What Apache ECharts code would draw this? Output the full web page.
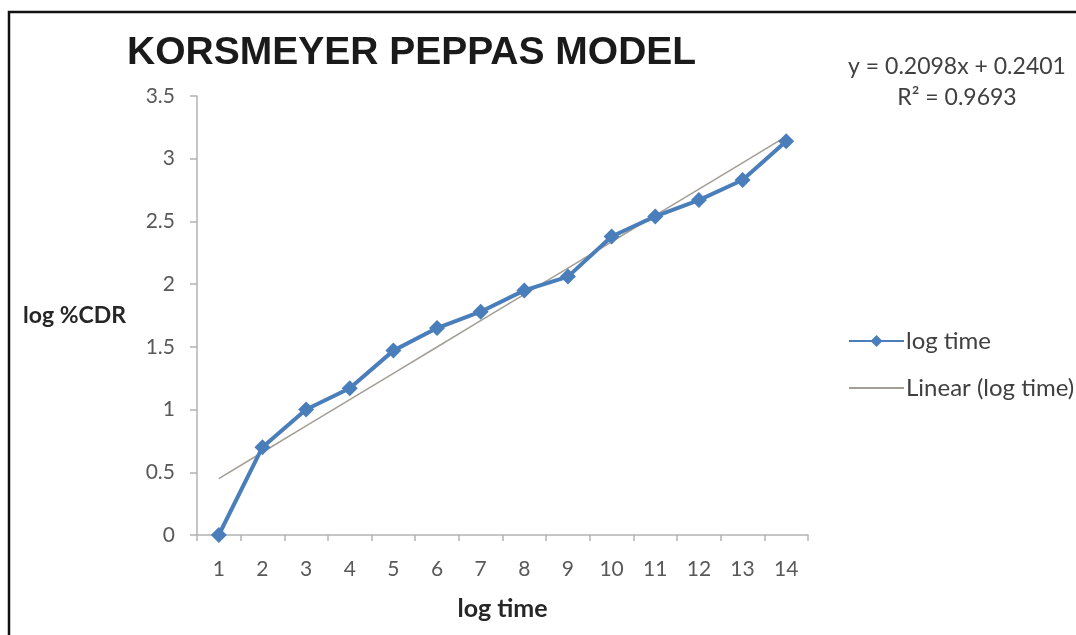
<!DOCTYPE html>
<html>
<head>
<meta charset="utf-8">
<style>
html,body{margin:0;padding:0;background:#fff;}
#chart{width:1076px;height:635px;}
</style>
<script src="https://cdn.jsdelivr.net/npm/echarts@6/dist/echarts.min.js"></script>
</head>
<body>
<div id="chart"></div>
<script>
const categories = ['1','2','3','4','5','6','7','8','9','10','11','12','13','14'];
const logCDR = [0, 0.70, 1.0, 1.17, 1.47, 1.65, 1.78, 1.95, 2.06, 2.38, 2.54, 2.67, 2.83, 3.14];
const trendSlope = 0.2098;
const trendIntercept = 0.2401;
const rSquared = 0.9693;
const yTicks = [0, 0.5, 1, 1.5, 2, 2.5, 3, 3.5];

const trend = categories.map(function (c, i) { return +(trendSlope * (i + 1) + trendIntercept).toFixed(4); });

const FONT = 'Lato, "Open Sans", sans-serif';
const chart = echarts.init(document.getElementById('chart'));
chart.setOption({
  backgroundColor: '#ffffff',
  animation: false,
  title: {
    text: 'KORSMEYER PEPPAS MODEL',
    left: 122,
    top: 29,
    textStyle: {
      fontFamily: '"Liberation Sans", sans-serif',
      fontWeight: 'bold',
      fontSize: 39,
      color: '#1a1a1a'
    }
  },
  graphic: [
    {
      type: 'polyline',
      shape: { points: [[9, 635], [9, 12], [1076, 12]] },
      style: { stroke: '#111', lineWidth: 2.5, fill: null }
    },
    {
      type: 'text',
      x: 957,
      y: 67,
      style: {
        text: 'y = ' + trendSlope + 'x + ' + trendIntercept,
        font: '23px ' + FONT,
        fill: '#404040',
        align: 'center',
        verticalAlign: 'middle'
      }
    },
    {
      type: 'text',
      x: 957,
      y: 98,
      style: {
        text: 'R² = ' + rSquared,
        font: '23px ' + FONT,
        fill: '#404040',
        align: 'center',
        verticalAlign: 'middle'
      }
    }
  ],
  legend: {
    orient: 'vertical',
    left: 843,
    top: 324,
    itemWidth: 55,
    itemHeight: 15,
    itemGap: 23,
    textStyle: { fontFamily: FONT, fontSize: 24, color: '#404040', padding: [0, 0, 0, -3] },
    data: [
      { name: 'log time' },
      { name: 'Linear (log time)', itemStyle: { opacity: 0 } }
    ]
  },
  grid: { left: 197, right: 268, top: 96, bottom: 100, containLabel: false },
  xAxis: {
    type: 'category',
    data: categories,
    boundaryGap: true,
    name: 'log time',
    nameLocation: 'middle',
    nameGap: 61,
    nameTextStyle: { fontFamily: FONT, fontWeight: 'bold', fontSize: 25, color: '#262626' },
    axisLine: { lineStyle: { color: '#b3b3b3', width: 1.5 } },
    axisTick: { show: true, alignWithLabel: false, length: 6, lineStyle: { color: '#b3b3b3', width: 1.5 } },
    axisLabel: { fontFamily: FONT, fontSize: 21, color: '#595959', margin: 24 },
    splitLine: { show: false }
  },
  yAxis: {
    type: 'value',
    min: yTicks[0],
    max: yTicks[yTicks.length - 1],
    interval: 0.5,
    name: 'log %CDR',
    nameLocation: 'middle',
    nameRotate: 0,
    nameGap: 71,
    nameTextStyle: { fontFamily: FONT, fontWeight: 'bold', fontSize: 23, color: '#262626', padding: [16, 0, 0, 0] },
    axisLine: { show: true, lineStyle: { color: '#b3b3b3', width: 1.5 } },
    axisTick: { show: true, length: 7, lineStyle: { color: '#b3b3b3', width: 1.5 } },
    axisLabel: { fontFamily: FONT, fontSize: 21, color: '#595959', margin: 22 },
    splitLine: { show: false }
  },
  series: [
    {
      name: 'Linear (log time)',
      type: 'line',
      data: trend,
      showSymbol: false,
      symbol: 'none',
      z: 2,
      lineStyle: { color: '#a39e96', width: 1.5 },
      itemStyle: { color: '#a39e96' }
    },
    {
      name: 'log time',
      type: 'line',
      data: logCDR,
      symbol: 'diamond',
      symbolSize: 16,
      z: 3,
      lineStyle: { color: '#4a7ebb', width: 4 },
      itemStyle: { color: '#4a7ebb' }
    }
  ]
});
</script>
</body>
</html>
